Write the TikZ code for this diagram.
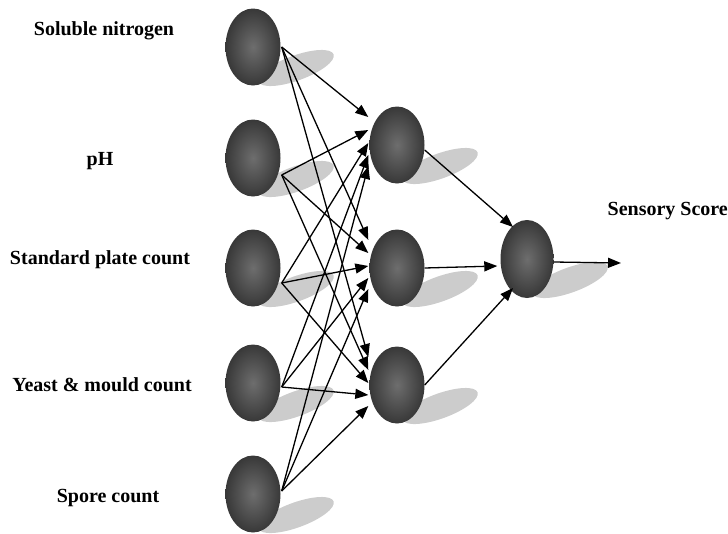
\documentclass[tikz,border=0pt]{standalone}
\usepackage{fontspec}
\setmainfont{Liberation Serif}
\usetikzlibrary{shapes.geometric,arrows.meta,calc,backgrounds}
\begin{document}
\begin{tikzpicture}[x=1pt,y=-1pt,
  neuron/.style={ellipse, minimum width=55pt, minimum height=77pt, inner sep=0pt,
    shading=radial, inner color=black!57, outer color=black!78},
  shadowell/.style={fill=black!20, draw=none},
  lbl/.style={font=\fontsize{20}{22}\selectfont\bfseries, anchor=base, inner sep=0pt},
  conn/.style={line width=1.3pt, -{Triangle[length=13pt,width=10pt]}}]
\useasboundingbox (0,0) rectangle (728,533);

% input nodes
\node[neuron] (i1) at (253,47) {};
\node[neuron] (i2) at (253,158) {};
\node[neuron] (i3) at (253,268) {};
\node[neuron] (i4) at (253,383) {};
\node[neuron] (i5) at (253,494) {};
% hidden nodes
\node[neuron] (h1) at (397,145) {};
\node[neuron] (h2) at (397,268) {};
\node[neuron] (h3) at (397,385) {};
% output node
\node[neuron, minimum width=53pt, minimum height=78pt] (o) at (527,259) {};

% shadows
\begin{scope}[on background layer]
\foreach \n in {i1,i2,i3,i4,i5,h1,h2,h3,o}{
  \coordinate (sh) at ($(\n.center)+(43,21)$);
  \fill[shadowell, rotate around={20:(sh)}] (sh) ellipse [x radius=40, y radius=12.5];
}
\end{scope}

% labels
\node[lbl] (l1) at (104,35) {Soluble nitrogen};
\node[lbl] (l2) at (100,165) {pH};
\node[lbl] (l3) at (100,264) {Standard plate count};
\node[lbl] (l4) at (102,391) {Yeast \& mould count};
\node[lbl] (l5) at (108,502) {Spore count};
\node[lbl, anchor=base east] (lo) at (728,215) {Sensory Score};

% source points
\coordinate (s1) at ($(i1.east)+(1,0)$);
\coordinate (s2) at ($(i2.east)+(1,17)$);
\coordinate (s3) at ($(i3.east)+(1,15)$);
\coordinate (s4) at ($(i4.east)+(1,4)$);
\coordinate (s5) at ($(i5.east)+(1,-3)$);

% input -> hidden
\foreach \h in {h1,h2,h3}{
  \foreach \s/\off in {1/-28,2/-15,3/-2,4/10,5/21}{
    \coordinate (t\h\s) at ($(\h.west)+(-1,\off)$);
    \draw[conn] (s\s) -- (t\h\s);
  }
}

% hidden -> output
\coordinate (oa) at ($(o.center)+(-14,-32)$);
\coordinate (ob) at ($(o.west)+(-3,7)$);
\coordinate (oc) at ($(o.center)+(-14,29)$);
\draw[conn] ($(h1.east)+(0,5)$) -- (oa);
\draw[conn] (h2.east) -- (ob);
\draw[conn] (h3.east) -- (oc);

% output arrow
\coordinate (out) at (621,263);
\draw[conn] ($(o.east)+(0,3)$) -- (out);
\end{tikzpicture}
\end{document}
